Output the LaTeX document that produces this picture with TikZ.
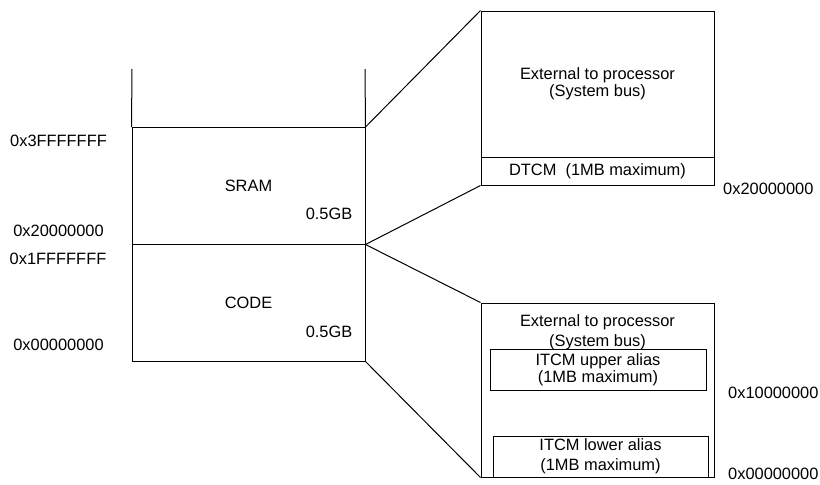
\documentclass[tikz,border=0pt]{standalone}
\usepackage{fontspec}
\setmainfont{Liberation Sans}
\usetikzlibrary{positioning}
\tikzset{>=latex}

\begin{document}
\begin{tikzpicture}[x=1pt, y=-1pt, node distance=1cm, on grid,
		region/.style={draw, line width=1pt, inner sep=0pt, align=center, font=\fontsize{16.4}{17}\selectfont},
		addr/.style={inner sep=0pt, align=center, font=\fontsize{16.4}{18}\selectfont}]
		\useasboundingbox (0,0) rectangle (820,485);
		% left: processor map
		\node[region, minimum width=233pt, minimum height=116.5pt] (sram) at (248.5,185.75) {SRAM};
		\node[region, minimum width=233pt, minimum height=117pt] (code) at (248.5,302.5) {CODE};
		\node[addr] (sramsz) [below right=28pt and 80.5pt of sram] {0.5GB};
		\node[addr] (codesz) [below right=29.5pt and 80.5pt of code] {0.5GB};
		\coordinate (topl) at (132,69);
		\coordinate (topr) at (365,69);
		\node[addr] (a3f) at (58.5,141) {0x3FFFFFFF};
		\node[addr] (a20) at (58.5,231) {0x20000000};
		\node[addr] (a1f) at (58,259) {0x1FFFFFFF};
		\node[addr] (a00) at (58.5,345) {0x00000000};
		% right top: SRAM detail
		\node[region, minimum width=233pt, minimum height=146pt] (ext) at (597.5,84) {External to processor\\(System bus)};
		\node[region, minimum width=233pt, minimum height=28pt] (dtcm) at (597.5,171) {DTCM\ \ (1MB maximum)};
		\node[addr, anchor=west] (b20) at (723,189) {0x20000000};
		% right bottom: CODE detail
		\node[region, minimum width=233pt, minimum height=174pt] (low) at (597.5,390) {};
		\node[addr, font=\fontsize{16.4}{20}\selectfont] (lowext) at (597.5,332) {External to processor\\(System bus)};
		\node[region, minimum width=216pt, minimum height=41pt] (itcmu) at (598,369.5) {ITCM upper alias\\(1MB maximum)};
		\node[region, minimum width=215pt, minimum height=41pt, font=\fontsize{16.4}{20}\selectfont] (itcml) at (600.5,456.5) {ITCM lower alias\\(1MB maximum)};
		\node[addr, anchor=west] (c10) at (728,393) {0x10000000};
		\node[addr, anchor=west] (c00) at (728,474) {0x00000000};
		\path[draw, line width=1pt] 
			(sram.north west) edge (topl)
			(sram.north east) edge (topr) edge (ext.north west)
			(sram.south east) edge (dtcm.south west) edge (low.north west)
			(code.south east) edge (low.south west);
	\end{tikzpicture}
\end{document}
